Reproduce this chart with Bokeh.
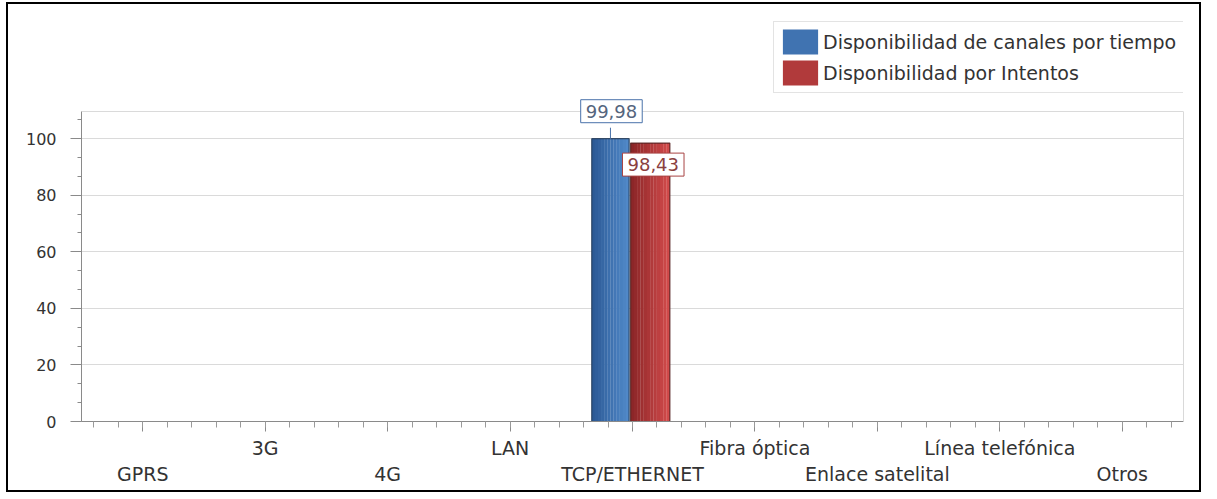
import numpy as np
from bokeh.plotting import figure
from bokeh.models import (FixedTicker, LinearAxis, Legend, LegendItem, Label, Range1d)
from bokeh.embed import file_html
from bokeh.resources import INLINE

# ---- data ----
categories = ["GPRS", "3G", "4G", "LAN", "TCP/ETHERNET", "Fibra óptica",
              "Enlace satelital", "Línea telefónica", "Otros"]
disp_tiempo = [0, 0, 0, 0, 99.98, 0, 0, 0, 0]
disp_intentos = [0, 0, 0, 0, 98.43, 0, 0, 0, 0]
label_tiempo = ["", "", "", "", "99,98", "", "", "", ""]
label_intentos = ["", "", "", "", "98,43", "", "", "", ""]
series_names = ["Disponibilidad de canales por tiempo", "Disponibilidad por Intentos"]
y_ticks = [0, 20, 40, 60, 80, 100]

FONT = "DejaVu Sans"
Y_MAX = 109.6          # top of the value axis
FRAME_BOTTOM = 417     # canvas px of value 0
PX_PER_UNIT = 310 / Y_MAX
Y_TOP = FRAME_BOTTOM / PX_PER_UNIT   # frame extends to canvas top (room for legend/labels)

p = figure(width=1195, height=490, output_backend="svg", toolbar_location=None,
           x_range=Range1d(0, len(categories)), y_range=Range1d(0, Y_TOP),
           min_border_left=73, min_border_right=20, min_border_top=0, min_border_bottom=73,
           x_axis_location=None)
p.styles = {"border": "2px solid black", "margin-left": "6px", "margin-top": "2px"}
p.outline_line_color = None
p.background_fill_color = "white"
p.border_fill_color = "white"
p.xgrid.visible = False
p.ygrid.grid_line_color = "#dadada"
p.ygrid.ticker = FixedTicker(ticks=y_ticks + [Y_MAX])

centers = np.arange(len(categories)) + 0.5
OFFS = (-0.18, 0.145)
WIDTHS = (0.305, 0.32)
grad = {0: ("#2c5a96", "#5088c8"), 1: ("#8c2628", "#d04a4a")}


def mix(c1, c2, t):
    a = [int(c1[i:i + 2], 16) for i in (1, 3, 5)]
    b = [int(c2[i:i + 2], 16) for i in (1, 3, 5)]
    return "#%02x%02x%02x" % tuple(int(round(a[k] + (b[k] - a[k]) * t)) for k in range(3))


legend_items = []
NS = 12
for si, vals in enumerate([disp_tiempo, disp_intentos]):
    xs = centers + OFFS[si]
    W = WIDTHS[si]
    c1, c2 = grad[si]
    rends = []
    for k in range(NS):
        sub_x = xs - W / 2 + W * (k + 0.5) / NS
        r = p.vbar(x=sub_x, top=vals, width=W / NS * 1.06, bottom=0,
                   fill_color=mix(c1, c2, k / (NS - 1)), line_color=None)
        rends.append(r)
    p.vbar(x=xs, top=vals, width=W, bottom=0, fill_color=None,
           line_color=mix(c1, "#202020", 0.5), line_width=1.2, line_alpha=0.9)
    legend_items.append(LegendItem(label=series_names[si], renderers=[rends[NS // 2]]))

# y axis (line limited to the value range)
yax = p.yaxis[0]
yax.bounds = (0, Y_MAX)
yax.ticker = FixedTicker(ticks=y_ticks, minor_ticks=list(np.arange(0, Y_MAX, 20 / 3)))
yax.axis_line_color = "#8a8a8a"
yax.major_tick_line_color = "#8a8a8a"
yax.minor_tick_line_color = "#8a8a8a"
yax.major_tick_out = 11
yax.major_tick_in = 0
yax.minor_tick_out = 4
yax.minor_tick_in = 0
yax.major_label_standoff = 14
yax.major_label_text_font = FONT
yax.major_label_text_font_size = "16px"
yax.major_label_text_color = "#333333"

# right border of the plot area
rax = LinearAxis(bounds=(0, Y_MAX), ticker=FixedTicker(ticks=[]),
                 axis_line_color="#d9d9d9", major_tick_line_color=None,
                 minor_tick_line_color=None, major_label_text_font_size="0px",
                 major_tick_out=0, minor_tick_out=0, major_label_standoff=0)
p.add_layout(rax, "right")

# x axes (two staggered rows)
minor_x = list(np.arange(0.1, len(categories), 0.2))
row1 = {float(c): (categories[i] if i % 2 == 1 else "") for i, c in enumerate(centers)}
row2 = {float(c): (categories[i] if i % 2 == 0 else "") for i, c in enumerate(centers)}

ax1 = LinearAxis(ticker=FixedTicker(ticks=list(centers), minor_ticks=minor_x),
                 major_label_overrides=row1)
ax1.axis_line_color = "#8a8a8a"
ax1.major_tick_line_color = "#8a8a8a"
ax1.minor_tick_line_color = "#9a9a9a"
ax1.major_tick_out = 10
ax1.major_tick_in = 0
ax1.minor_tick_out = 6
ax1.minor_tick_in = 0
ax1.major_label_standoff = 5
ax1.major_label_text_font = FONT
ax1.major_label_text_font_size = "19px"
ax1.major_label_text_color = "#333333"
p.add_layout(ax1, "below")

ax2 = LinearAxis(ticker=FixedTicker(ticks=list(centers)), major_label_overrides=row2)
ax2.axis_line_color = None
ax2.major_tick_line_color = None
ax2.minor_tick_line_color = None
ax2.major_tick_out = 0
ax2.major_tick_in = 0
ax2.minor_tick_out = 0
ax2.minor_tick_in = 0
ax2.major_label_standoff = 1
ax2.major_label_text_font = FONT
ax2.major_label_text_font_size = "19px"
ax2.major_label_text_color = "#333333"
p.add_layout(ax2, "below")

# data labels
i_tcp = label_tiempo.index("99,98")
bx = centers[i_tcp] + OFFS[0]
rx = centers[i_tcp] + OFFS[1]
p.segment(x0=[bx], y0=[disp_tiempo[i_tcp]], x1=[bx],
          y1=[disp_tiempo[i_tcp] + 11 / PX_PER_UNIT], line_color="#4a72aa", line_width=1)
p.add_layout(Label(x=bx, y=disp_tiempo[i_tcp], text=label_tiempo[i_tcp], text_align="center",
                   text_baseline="bottom", y_offset=16, x_offset=1, text_font=FONT,
                   text_font_size="18px", text_color="#55657d",
                   background_fill_color="white", border_line_color="#4a72aa",
                   padding=(5, 5)))
p.add_layout(Label(x=rx, y=disp_intentos[i_tcp], text=label_intentos[i_tcp], text_align="center",
                   text_baseline="top", y_offset=-10, x_offset=3, text_font=FONT,
                   text_font_size="18px", text_color="#8a4040",
                   background_fill_color="white", border_line_color="#a84444",
                   padding=(5, 5)))

legend = Legend(items=legend_items, location=(692, 328), orientation="vertical")
legend.label_text_font = FONT
legend.label_text_font_size = "19px"
legend.label_text_color = "#333333"
legend.label_width = 358
legend.glyph_width = 44
legend.glyph_height = 31
legend.label_height = 31
legend.spacing = 0
legend.padding = 4
legend.margin = 0
legend.label_standoff = 1
legend.border_line_color = "#c8c8c8"
legend.background_fill_color = "white"
p.add_layout(legend, "center")

open("out.html", "w").write(file_html(p, INLINE))
